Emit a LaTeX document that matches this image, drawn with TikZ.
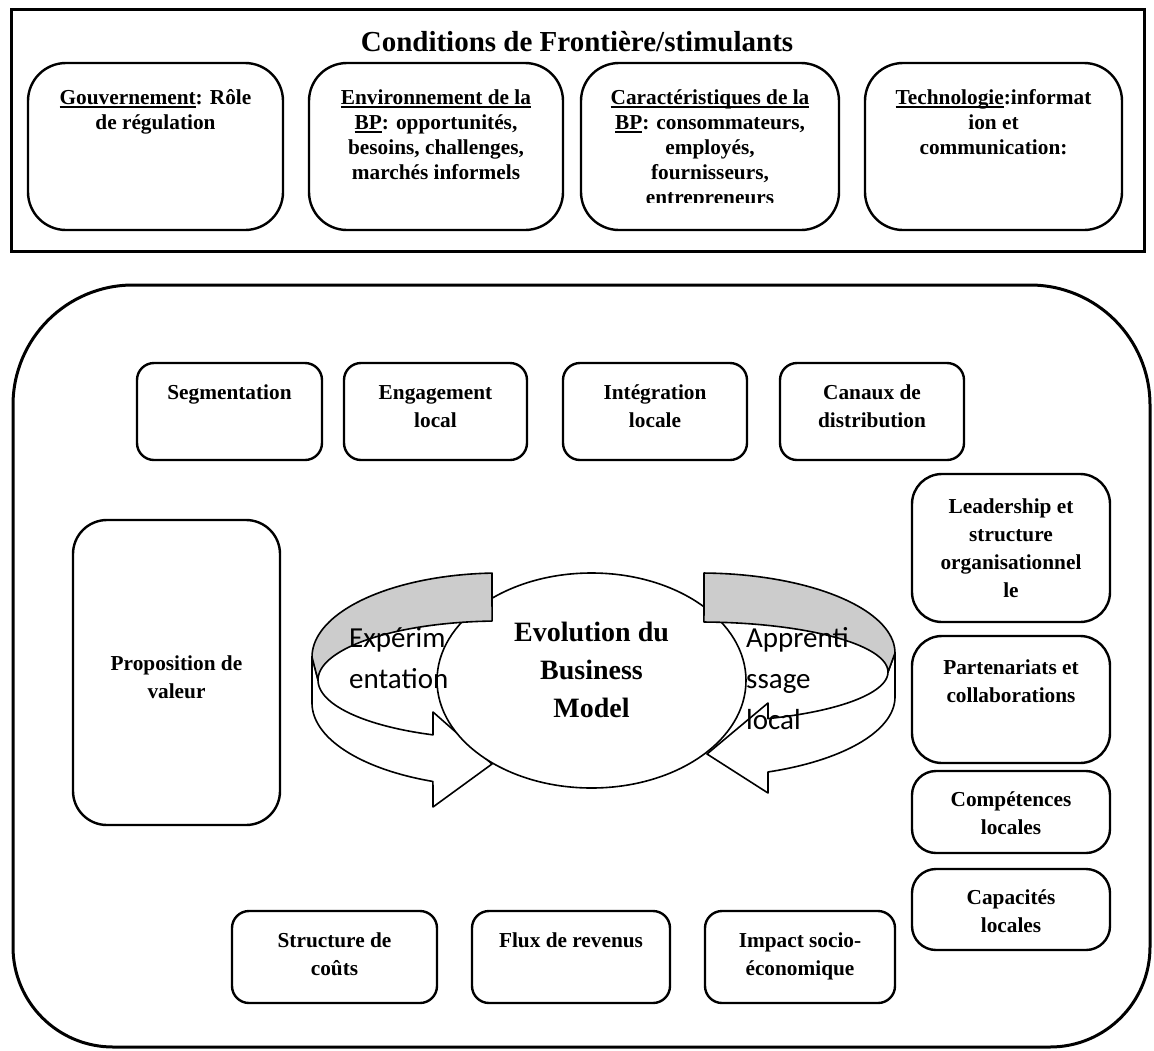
\documentclass[tikz,border=0pt]{standalone}
\usepackage{fontspec}
\setmainfont{Liberation Serif}
\newfontfamily\calib{Carlito}
\usetikzlibrary{shapes.geometric}
\newcommand{\ulbox}[1]{\setbox0\hbox{#1}\rlap{\rule[-3.5pt]{\wd0}{1.6pt}}\box0}
\newcommand{\myBody}{\fontsize{21.3}{28}\selectfont\bfseries}
\newcommand{\myTop}{\fontsize{21.3}{25}\selectfont\bfseries}
\newcommand{\myTitle}{\fontsize{29}{34}\selectfont\bfseries}
\newcommand{\myBig}{\fontsize{28}{38}\selectfont\bfseries}
\newcommand{\mySans}{\fontsize{29}{41}\selectfont\calib}
\begin{document}
\begin{tikzpicture}[x=1pt,y=-1pt,
  rbox/.style={draw, line width=2.4pt, rounded corners=#1, inner sep=0pt},
  rbox/.default=17pt,
  lbl/.style={inner sep=0pt, anchor=north, align=center, font=\myBody},
  tlbl/.style={inner sep=0pt, anchor=north, align=center, font=\myTop},
  band/.style={draw, line width=1.6pt, line join=round}]
\useasboundingbox (0,0) rectangle (1154,1050);

% ---------- top frame ----------
\draw[line width=3pt] (11,9) rectangle (1144,251);
\node[anchor=base, inner sep=0pt, font=\myTitle] (title) at (577,51.5) {Conditions de Frontière/stimulants};

\node[rbox=38pt, minimum width=255pt, minimum height=167pt] (gov) at (155.5,146.5) {};
\node[rbox=38pt, minimum width=254pt, minimum height=167pt] (env) at (436,146.5) {};
\node[rbox=38pt, minimum width=258pt, minimum height=167pt] (car) at (710,146.5) {};
\node[rbox=38pt, minimum width=257pt, minimum height=167pt] (tec) at (993.5,146.5) {};

\node[tlbl] (govT) at (155.5,86.5) {\strut\ulbox{Gouvernement}: Rôle\\de régulation};
\node[tlbl] (envT) at (436,86.5) {\strut\ulbox{Environnement de la}\\\ulbox{BP}: opportunités,\\besoins, challenges,\\marchés informels};
\begin{scope}
\clip (581,63) rectangle (839,202);
\node[tlbl] (carT) at (710,86.5) {\strut\ulbox{Caractéristiques de la}\\\ulbox{BP}: consommateurs,\\employés,\\fournisseurs,\\entrepreneurs};
\end{scope}
\node[tlbl] (tecT) at (993.5,86.5) {\strut\ulbox{Technologie}:informat\\ion et\\communication:};

% ---------- big frame ----------
\draw[line width=3pt] (13,700) [rounded corners=120pt]-- (13,285) -- (1150,285) -- (1150,700)
  [rounded corners=100pt]-- (1150,1047) -- (13,1047) -- cycle;

% top row
\node[rbox, minimum width=185pt, minimum height=97pt] (seg) at (229.5,411.5) {};
\node[rbox, minimum width=183pt, minimum height=97pt] (eng) at (435.5,411.5) {};
\node[rbox, minimum width=184pt, minimum height=97pt] (int) at (655,411.5) {};
\node[rbox, minimum width=184pt, minimum height=97pt] (can) at (872,411.5) {};
\node[lbl] (segT) at (229.5,379.4) {\strut Segmentation};
\node[lbl] (engT) at (435.5,379.4) {\strut Engagement\\local};
\node[lbl] (intT) at (655,379.4) {\strut Intégration\\locale};
\node[lbl] (canT) at (872,379.4) {\strut Canaux de\\distribution};

% right column
\node[rbox=30pt, minimum width=198pt, minimum height=148pt] (lead) at (1011,548) {};
\node[rbox=30pt, minimum width=198pt, minimum height=127pt] (part) at (1011,699.5) {};
\node[rbox=24pt, minimum width=198pt, minimum height=82pt] (comp) at (1011,812) {};
\node[rbox=24pt, minimum width=198pt, minimum height=81pt] (capa) at (1011,909.5) {};
\node[lbl] (leadT) at (1011,493.4) {\strut Leadership et\\structure\\organisationnel\\le};
\node[lbl] (partT) at (1011,654.4) {\strut Partenariats et\\collaborations};
\node[lbl] (compT) at (1011,786.4) {\strut Compétences\\locales};
\node[lbl] (capaT) at (1011,884.4) {\strut Capacités\\locales};

% left box
\node[rbox=34pt, minimum width=207pt, minimum height=305pt] (prop) at (176.5,672.5) {};
\node[lbl] (propT) at (176.5,650.4) {\strut Proposition de\\valeur};

% bottom row
\node[rbox, minimum width=205pt, minimum height=92pt] (cost) at (334.5,957) {};
\node[rbox, minimum width=198pt, minimum height=92pt] (flux) at (571,957) {};
\node[rbox, minimum width=190pt, minimum height=92pt] (imp) at (800,957) {};
\node[lbl] (costT) at (334.5,927.4) {\strut Structure de\\coûts};
\node[lbl] (fluxT) at (571,927.4) {\strut Flux de revenus};
\node[lbl] (impT) at (800,927.4) {\strut Impact socio-\\économique};

% ---------- circular arrows (lower faces) ----------
\draw[band, fill=white] (312,657) -- (312,703)
  -- plot[domain=180:110.9, samples=40, variable=\t] ({500+188*cos(\t)},{703+84*sin(\t)})
  -- (433,807) -- (492,764) -- (433,712)
  -- plot[domain=111.6:180, samples=40, variable=\t] ({500+182*cos(\t)},{680+59*sin(\t)})
  -- cycle;
\draw[band, fill=white] (895,653) -- (895,697)
  -- plot[domain=0:69.6, samples=40, variable=\t] ({700+195*cos(\t)},{697+80*sin(\t)})
  -- (768,793) -- (707,754) -- (768,703)
  -- plot[domain=68.8:0, samples=40, variable=\t] ({700+188*cos(\t)},{672+50*sin(\t)})
  -- cycle;

% ellipse
\node[draw, ellipse, fill=white, line width=1.6pt, minimum width=309pt, minimum height=215pt, inner sep=0pt] (evo) at (591.5,680.5) {};

% grey top faces
\draw[band, fill=black!20] (492,573)
  -- plot[domain=267.6:180, samples=40, variable=\t] ({500+188*cos(\t)},{657+84*sin(\t)})
  -- (318,680)
  -- plot[domain=180:267.5, samples=40, variable=\t] ({500+182*cos(\t)},{680+59*sin(\t)})
  -- cycle;
\draw[band, fill=black!20] (704,573)
  -- plot[domain=271.2:360, samples=40, variable=\t] ({700+195*cos(\t)},{653+80*sin(\t)})
  -- (888,672)
  -- plot[domain=360:271.2, samples=40, variable=\t] ({700+188*cos(\t)},{672+50*sin(\t)})
  -- cycle;

% texts
\node[inner sep=0pt, anchor=north, align=center, font=\myBig] (evoT) at (591.5,614.4) {\strut Evolution du\\Business\\Model};
\node[inner sep=0pt, anchor=north west, align=left, font=\mySans] (expT) at (349,619) {\strut Expérim\\entation};
\node[inner sep=0pt, anchor=north west, align=left, font=\mySans] (appT) at (746,619) {\strut Apprenti\\ssage\\local};
\end{tikzpicture}
\end{document}
